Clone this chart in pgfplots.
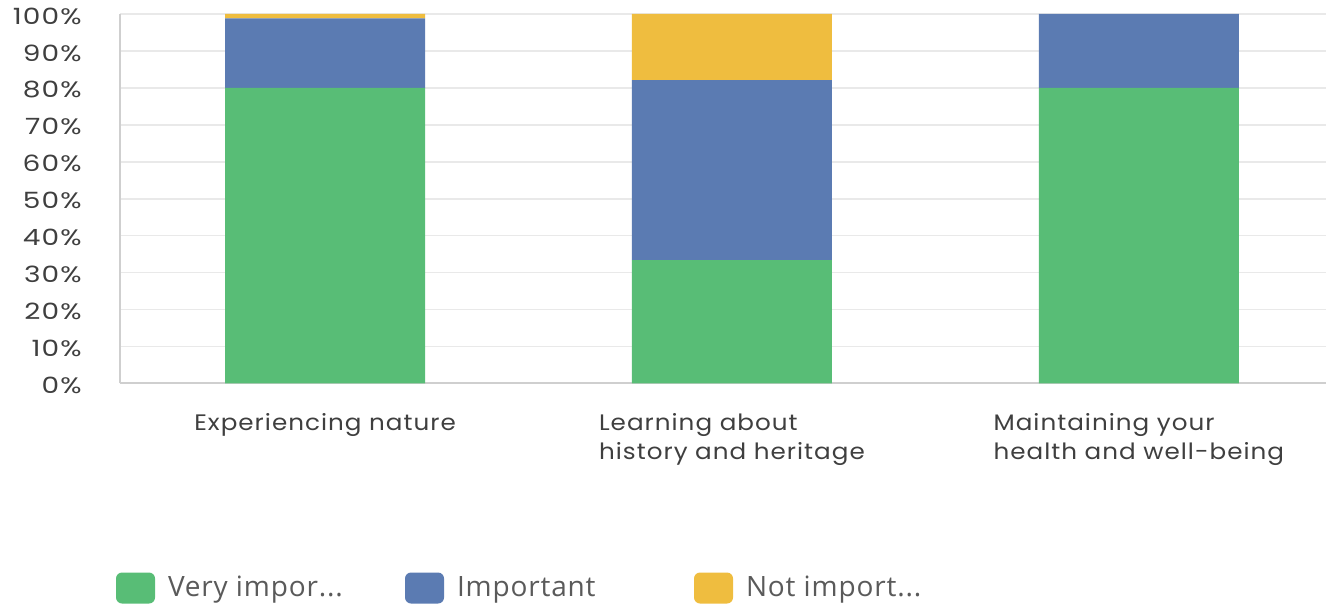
\documentclass[border=0pt]{standalone}
\usepackage{fontspec}
\setmainfont{Poppins}
\newfontfamily\tickfont[FakeStretch=1.25, LetterSpace=5]{Poppins}
\newfontfamily\labfont[FakeStretch=1.1, LetterSpace=4.5]{Poppins}
\newfontfamily\legfont[LetterSpace=3]{Open Sans}
\usepackage{pgfplots}
\pgfplotsset{compat=1.18}
\definecolor{cgreen}{HTML}{58BD76}
\definecolor{cblue}{HTML}{5B7BB2}
\definecolor{cyellow}{HTML}{EFBD3F}
\definecolor{tickc}{HTML}{3F3F3F}
\definecolor{legc}{HTML}{5A5A5A}
\definecolor{gridc}{HTML}{E9E9E9}
\definecolor{axisc}{HTML}{CFCFCF}
\begin{document}
\begin{tikzpicture}
\path[use as bounding box] (0,0) rectangle (663pt,302pt);
\begin{axis}[
  at={(60pt,110.25pt)}, anchor=south west,
  scale only axis, width=603pt, height=184.75pt,
  ybar stacked, bar width=100pt,
  xmin=-0.504, xmax=2.46, ymin=0, ymax=100,
  xtick={0,1,2},
  xticklabels={Experiencing nature, Learning about\\history and heritage, Maintaining your\\health and well-being},
  ytick={0,10,...,100},
  yticklabel={\pgfmathprintnumber{\tick}\%},
  ymajorgrids, grid style={gridc, line width=0.8pt},
  axis x line*=bottom, axis y line*=left,
  axis line style={-, axisc, line width=1pt},
  major tick length=0pt,
  tick style={draw=none},
  /pgf/number format/assume math mode=true,
  yticklabel style={font=\tickfont\fontsize{11.2pt}{13pt}\selectfont, text=tickc, inner sep=0pt, anchor=east, xshift=-19pt, yshift=-1pt},
  xticklabel style={font=\labfont\fontsize{11.2pt}{14.5pt}\selectfont, text=tickc, align=left, anchor=north, inner sep=0pt, yshift=-15pt},
  legend style={at={(-0.0033,-0.5535)}, anchor=west, draw=none, fill=none,
    inner sep=0pt, outer sep=0pt, nodes={inner sep=0pt, text=legc},
    font=\legfont\fontsize{14pt}{16pt}\selectfont,
    /tikz/every even column/.append style={column sep=0pt},
    /tikz/every odd column/.append style={column sep=0pt}},
  legend columns=3,
]
\addplot[fill=cgreen, draw=none, legend image code/.code={\fill[cgreen, rounded corners=3pt] (0pt,-7.75pt) rectangle (19.5pt,7.75pt);}]
  coordinates {(0,80) (1,33.4) (2,80)};
\addplot[fill=cblue, draw=none, legend image code/.code={\fill[cblue, rounded corners=3pt] (0pt,-7.75pt) rectangle (19.5pt,7.75pt);}]
  coordinates {(0,18.8) (1,48.7) (2,20)};
\addplot[fill=cyellow, draw=none, legend image code/.code={\fill[cyellow, rounded corners=3pt] (0pt,-7.75pt) rectangle (19.5pt,7.75pt);}]
  coordinates {(0,1.2) (1,17.9) (2,0)};
\legend{\makebox[125pt][l]{\hspace*{6.5pt}Very impor...}, \makebox[125pt][l]{\hspace*{6.5pt}Important}, \makebox[125pt][l]{\hspace*{6.5pt}Not import...}}
\end{axis}
\end{tikzpicture}
\end{document}
